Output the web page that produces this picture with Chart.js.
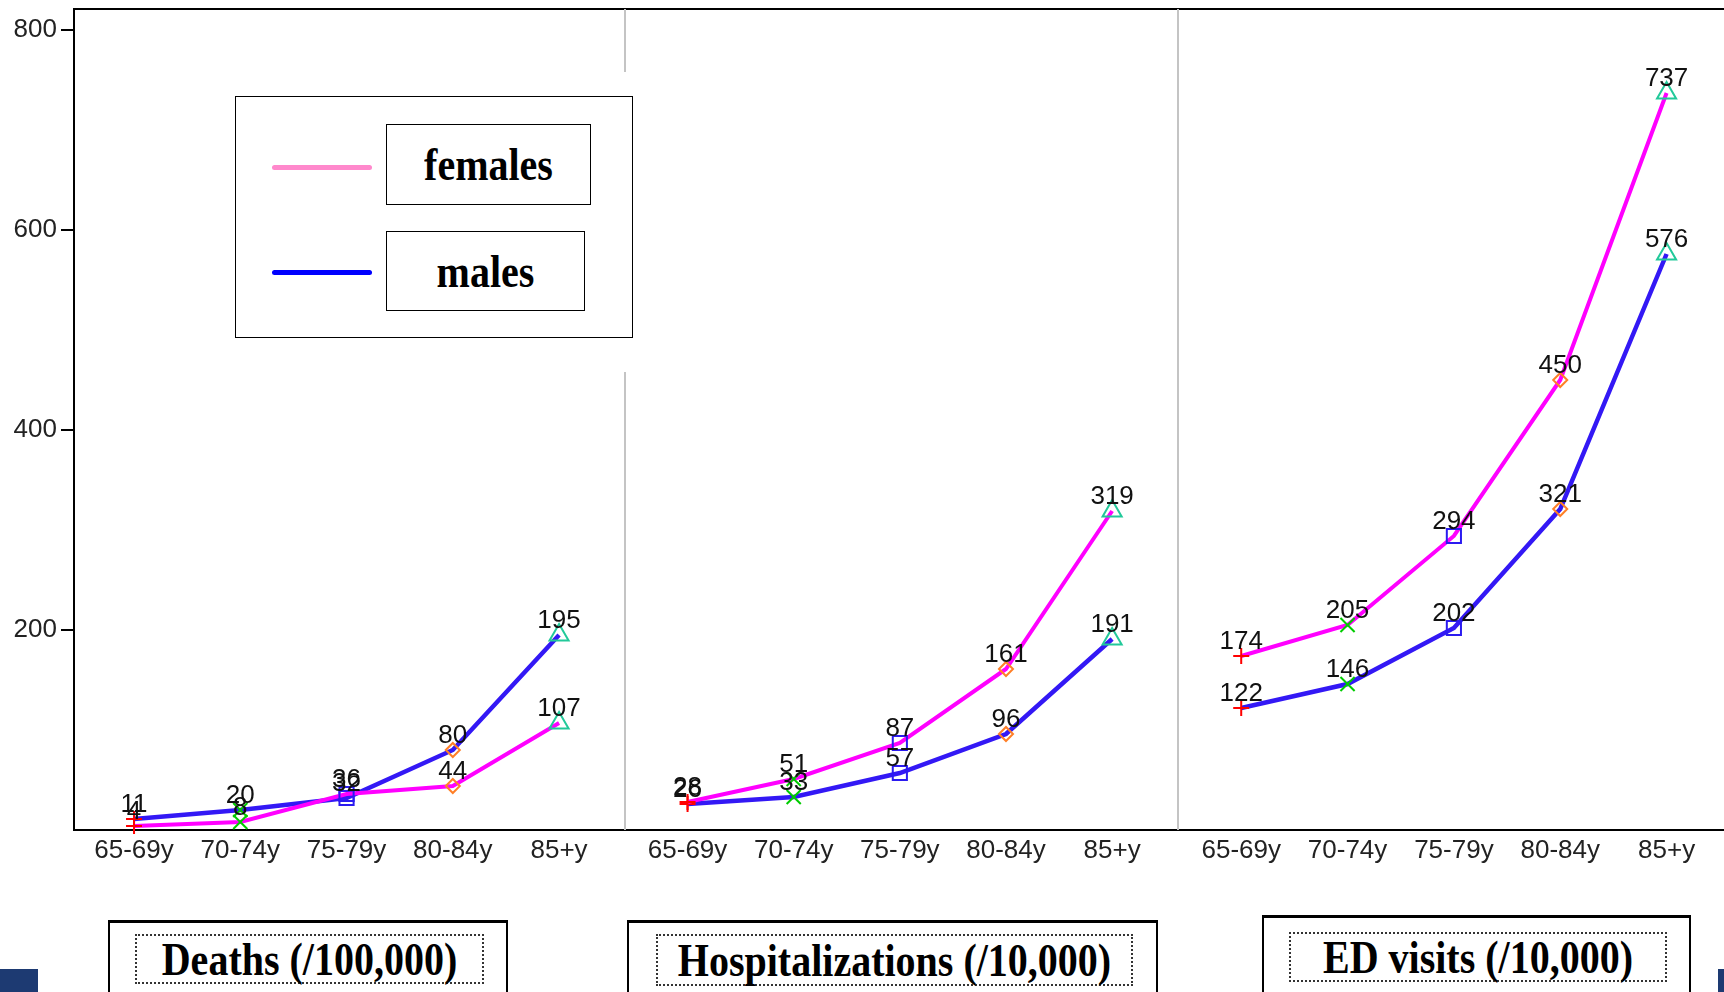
<!DOCTYPE html>
<html>
<head>
<meta charset="utf-8">
<script src="https://cdn.jsdelivr.net/npm/chart.js@4.4.1/dist/chart.umd.min.js"></script>
<style>
  body { margin: 0; background: #fff; }
  #wrap { position: relative; width: 1724px; height: 992px; overflow: hidden; background: #fff; }
  canvas { position: absolute; top: 0; }
  .legend-cover { position: absolute; left: 228px; top: 72px; width: 410px; height: 300px; background: #fff; }
  .legend { position: absolute; left: 235px; top: 96px; width: 396px; height: 240px; border: 1.5px solid #000; background: #fff; }
  .legend .swatch { position: absolute; left: 36px; width: 100px; height: 5px; border-radius: 3px; }
  .legend .lbl { position: absolute; border: 1.5px solid #000; font: bold 40px "Liberation Serif", "Times New Roman", serif;
                 display: flex; align-items: center; justify-content: center; color: #000; }
  .legend .lbl span, .title span { display: inline-block; transform: scaleY(1.15); }
  .title { position: absolute; border: 2px solid #000; border-top-width: 3px; background: #fff; }
  .title .inner { position: absolute; border: 2px dotted #333; display: flex; align-items: center; justify-content: center;
                  font: bold 40px "Liberation Serif", "Times New Roman", serif; color: #000; white-space: nowrap; }
  .navy { position: absolute; background: #1d3a72; }
</style>
</head>
<body>
<div id="wrap">
  <canvas id="deaths" width="626" height="900" style="left:0"></canvas>
  <canvas id="hosp" width="553" height="900" style="left:626px"></canvas>
  <canvas id="ed" width="545" height="900" style="left:1179px"></canvas>

  <div class="legend-cover"></div>
  <div class="legend">
    <div class="swatch" style="top:68px;background:#ff88cc"></div>
    <div class="lbl" style="left:150px;top:27px;width:203px;height:79px"><span>females</span></div>
    <div class="swatch" style="top:173px;background:#0000ff"></div>
    <div class="lbl" style="left:150px;top:134px;width:197px;height:78px"><span>males</span></div>
  </div>

  <div id="titles"></div>
  <div class="navy" style="left:0;top:969px;width:38px;height:23px"></div>
  <div class="navy" style="left:1718px;top:969px;width:6px;height:23px"></div>
</div>
<script>
const ageGroups = ['65-69y', '70-74y', '75-79y', '80-84y', '85+y'];
const deathsFemales = [4, 8, 36, 44, 107];
const deathsMales = [11, 20, 32, 80, 195];
const hospFemales = [28, 51, 87, 161, 319];
const hospMales = [26, 33, 57, 96, 191];
const edFemales = [174, 205, 294, 450, 737];
const edMales = [122, 146, 202, 321, 576];
const yTicks = [200, 400, 600, 800];
const panelTitles = ['Deaths (/100,000)', 'Hospitalizations (/10,000)', 'ED visits (/10,000)'];

const sansFont = '"Liberation Sans", Arial, sans-serif';
const markerStyles = ['cross', 'crossRot', 'rect', 'rectRot', 'triangle'];
const markerColors = ['#ff0000', '#00cc00', '#2b1bf0', '#ff7f27', '#22c99a'];
const markerSizes = [8, 10, 10, 7, 11];

// value labels above every point
const valueLabels = {
    id: 'valueLabels',
    afterDatasetsDraw(chart) {
        const ctx = chart.ctx;
        ctx.save();
        ctx.font = '26px ' + sansFont;
        ctx.fillStyle = '#111';
        ctx.textAlign = 'center';
        ctx.textBaseline = 'alphabetic';
        chart.data.datasets.forEach((ds, i) => {
            chart.getDatasetMeta(i).data.forEach((pt, j) => {
                ctx.fillText(String(ds.data[j].y), pt.x, pt.y - 7);
            });
        });
        ctx.restore();
    }
};

// black top line and grey panel divider
const panelFrame = {
    id: 'panelFrame',
    afterDraw(chart, args, opts) {
        const {ctx, chartArea} = chart;
        ctx.save();
        ctx.strokeStyle = '#000';
        ctx.lineWidth = 2;
        ctx.beginPath();
        ctx.moveTo(chartArea.left, chartArea.top);
        ctx.lineTo(chart.width, chartArea.top);
        ctx.stroke();
        if (opts.divider) {
            ctx.strokeStyle = '#c4c4c4';
            ctx.beginPath();
            ctx.moveTo(chartArea.right - 1, chartArea.top);
            ctx.lineTo(chartArea.right - 1, chartArea.bottom);
            ctx.stroke();
        }
        ctx.restore();
    }
};

const toPoints = vals => vals.map((v, i) => ({x: i, y: v}));

// keep the plot area fixed: no extra room for edge labels
function noPadding(s) {
    s.paddingLeft = 0;
    s.paddingRight = 0;
    s.paddingTop = 0;
    s.paddingBottom = 0;
}

function series(label, vals, color, width) {
    return {
        label: label,
        data: toPoints(vals),
        borderColor: color,
        borderWidth: width,
        tension: 0,
        pointStyle: markerStyles,
        pointRadius: markerSizes,
        pointBorderColor: markerColors,
        pointBackgroundColor: 'rgba(0,0,0,0)',
        pointBorderWidth: 2,
        clip: false
    };
}

function makePanel(id, females, males, showY, divider, xMin, xMax) {
    return new Chart(document.getElementById(id), {
        type: 'line',
        data: {
            datasets: [
                series('females', females, '#ff00ff', 4),
                series('males', males, '#3318f5', 4.5)
            ]
        },
        options: {
            responsive: false,
            animation: false,
            layout: {autoPadding: false, padding: {top: 9, left: 0, right: 0, bottom: 0}},
            plugins: {legend: {display: false}, tooltip: {enabled: false}, panelFrame: {divider: divider}},
            scales: {
                x: {
                    type: 'linear', min: xMin, max: xMax,
                    afterBuildTicks: s => { s.ticks = ageGroups.map((_, i) => ({value: i})); },
                    afterFit: s => { s.height = 70; noPadding(s); },
                    grid: {display: false, drawTicks: false},
                    border: {display: true, color: '#000', width: 2},
                    ticks: {
                        autoSkip: false, maxRotation: 0, minRotation: 0, padding: 5, color: '#222',
                        font: {family: sansFont, size: 26},
                        callback: v => ageGroups[v]
                    }
                },
                y: {
                    display: showY, min: 0, max: 821,
                    afterBuildTicks: s => { s.ticks = yTicks.map(v => ({value: v})); },
                    afterFit: s => { s.width = showY ? 74 : 0; noPadding(s); },
                    grid: {drawOnChartArea: false, drawTicks: true, tickLength: 13, color: '#000', lineWidth: 2},
                    border: {color: '#000', width: 2},
                    ticks: {padding: 4, color: '#222', font: {family: sansFont, size: 26}}
                }
            }
        },
        plugins: [valueLabels, panelFrame]
    });
}

makePanel('deaths', deathsFemales, deathsMales, true, true, -0.565, 4.63);
makePanel('hosp', hospFemales, hospMales, false, true, -0.58, 4.63);
makePanel('ed', edFemales, edMales, false, false, -0.585, 4.54);

// panel titles under the axis
const titleBoxes = [
    {outer: [108, 920, 396, 90], inner: [25, 11, 345, 46]},
    {outer: [627, 920, 527, 90], inner: [27, 11, 473, 48]},
    {outer: [1262, 915, 425, 90], inner: [25, 14, 374, 46]}
];
const titles = document.getElementById('titles');
panelTitles.forEach((t, i) => {
    const b = titleBoxes[i];
    const box = document.createElement('div');
    box.className = 'title';
    box.style.cssText = `left:${b.outer[0]}px;top:${b.outer[1]}px;width:${b.outer[2]}px;height:${b.outer[3]}px`;
    const inner = document.createElement('div');
    inner.className = 'inner';
    inner.style.cssText = `left:${b.inner[0]}px;top:${b.inner[1]}px;width:${b.inner[2]}px;height:${b.inner[3]}px`;
    const span = document.createElement('span');
    span.textContent = t;
    inner.appendChild(span);
    box.appendChild(inner);
    titles.appendChild(box);
});
</script>
</body>
</html>
